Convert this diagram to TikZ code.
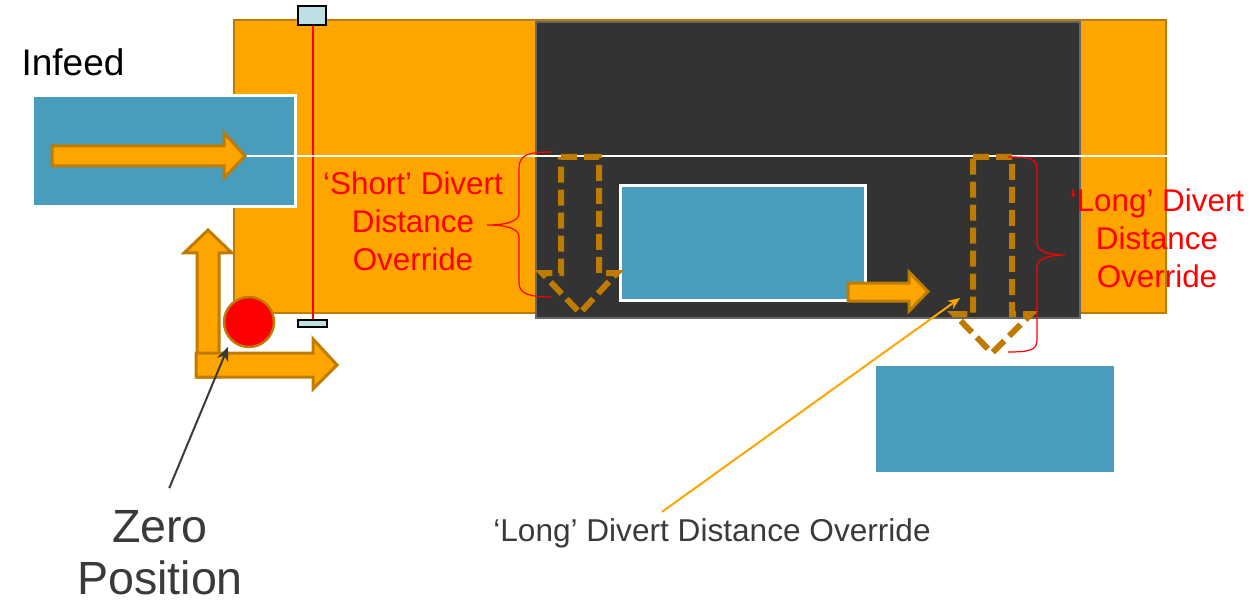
\documentclass[tikz,border=0pt]{standalone}
\usepackage{fontspec}
\setmainfont{Liberation Sans}
\usetikzlibrary{arrows.meta}
\definecolor{org}{HTML}{FFA500}
\definecolor{orgline}{HTML}{C07C00}
\definecolor{dashorg}{HTML}{BF7B00}
\definecolor{blu}{HTML}{479DBB}
\definecolor{dark}{HTML}{333333}
\definecolor{lblu}{HTML}{BDE0E4}
\definecolor{txt}{HTML}{3A3A3A}
\tikzset{
  blockarrow/.style={fill=org,draw=orgline,line width=1.5pt,line join=miter},
  dasharrow/.style={draw=dashorg,line width=3pt,dash pattern=on 8pt off 3.5pt,line join=miter},
  redbrace/.style={draw=red,line width=0.6pt},
  redtxt/.style={text=red,font=\fontsize{15.7}{19}\selectfont,align=center,inner sep=0pt},
  stopper/.style={fill=lblu,draw=black,line width=1pt}
}
\begin{document}
\begin{tikzpicture}[x=0.5pt,y=-0.5pt]
\useasboundingbox (0,0) rectangle (1252,604);
% main conveyor
\path[fill=org,draw=orgline,line width=1pt] (234,20) rectangle (1166,313);
\path[fill=dark,draw=black!60,line width=0.8pt] (536,22) rectangle (1080,318);
% infeed box
\path[fill=blu,draw=white,line width=1.5pt] (32,96) rectangle (295,207);
% photo eye
\draw[red,line width=1pt] (313,25) -- (313,320);
\path[stopper] (298,6) rectangle (326,25);
\path[stopper] (298,320) rectangle (327,327);
% reference line
\draw[white,line width=0.7pt] (245,156) -- (1168,156);
% infeed arrow
\path[blockarrow] (52,146) -- (224,146) -- (224,133) -- (245,156) -- (224,178) -- (224,166) -- (52,166) -- cycle;
% axes
\path[blockarrow] (197,377) -- (197,253) -- (184,253) -- (208,230) -- (232,253) -- (219,253) -- (219,377) -- cycle;
\path[blockarrow] (196,353) -- (313,353) -- (313,339) -- (337,365) -- (313,389) -- (313,377) -- (196,377) -- cycle;
\path[fill=red,draw=orgline,line width=1.2pt] (249,322) circle[radius=25];
% centre box
\path[fill=blu,draw=white,line width=1.5pt] (620,186) rectangle (865,300);
\path[blockarrow] (848,283) -- (909,283) -- (909,272) -- (928,291.5) -- (909,311) -- (909,301) -- (848,301) -- cycle;
% dashed arrows
\draw[dasharrow] (561,157) -- (599,157) -- (599,273) -- (617,273) -- (580,313) -- (542,273) -- (561,273) -- cycle;
\draw[dasharrow] (973,157) -- (1012,157) -- (1012,314) -- (1031,314) -- (992,353) -- (954,314) -- (973,314) -- cycle;
% braces
\draw[redbrace] (552,152) .. controls (530,152) and (519,154) .. (519,168) -- (519,213) .. controls (519,222) and (505,225) .. (487,225) .. controls (505,225) and (519,228) .. (519,237) -- (519,283) .. controls (519,294) and (530,297) .. (552,297);
\draw[redbrace] (1008,157) .. controls (1030,157) and (1037,158) .. (1037,170) -- (1037,243) .. controls (1037,252) and (1050,255) .. (1065,255) .. controls (1050,255) and (1037,258) .. (1037,267) -- (1037,340) .. controls (1037,350) and (1030,352) .. (1008,352);
\node[redtxt] (short) at (413,221) {‘Short’ Divert\\Distance\\Override};
\node[redtxt] (long) at (1157,238) {‘Long’ Divert\\Distance\\Override};
% outfeed box
\path[fill=blu] (876,366) rectangle (1114,472);
% labels
\node[text=black,font=\fontsize{18.5}{22}\selectfont,inner sep=0pt] (infeed) at (73,62) {Infeed};
\node[text=txt,font=\fontsize{23.3}{26}\selectfont,align=center,inner sep=0pt] (zero) at (160,553) {Zero\\Position};
\node[text=txt,font=\fontsize{15.8}{19}\selectfont,inner sep=0pt] (ldo) at (712,533) {‘Long’ Divert Distance Override};
\coordinate (zt) at (228,347);
\coordinate (lt) at (960,298);
\draw[txt,line width=1pt,-{Stealth[length=7pt,width=6pt]},shorten <=12pt] (zero.north) -- (zt);
\draw[org,line width=1pt,-{Stealth[length=6pt,width=5pt]}] (ldo.north west) ++(169,-6) -- (lt);
\end{tikzpicture}
\end{document}
